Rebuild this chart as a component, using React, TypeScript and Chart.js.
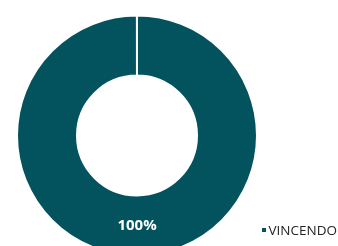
import React, { useEffect, useRef } from "react";
import { Chart, registerables } from "chart.js";

Chart.register(...registerables);

const categories: string[] = ["VINCENDO"];
const values: number[] = [100];
const colors: string[] = ["#03535E"];

const labelPlugin = {
  id: "sliceLabels",
  afterDatasetsDraw(chart: any) {
    const ctx = chart.ctx;
    const meta = chart.getDatasetMeta(0);
    const data = chart.data.datasets[0].data as number[];
    const total = data.reduce((a, b) => a + b, 0);
    ctx.save();
    ctx.fillStyle = "#FFFFFF";
    ctx.font = "bold 15px 'Open Sans'";
    ctx.textAlign = "center";
    ctx.textBaseline = "middle";
    meta.data.forEach((arc: any, i: number) => {
      const pos = arc.tooltipPosition();
      const pct = Math.round((data[i] / total) * 100) + "%";
      ctx.fillText(pct, pos.x, pos.y);
    });
    ctx.restore();
  },
};

export default function App() {
  const ref = useRef<HTMLCanvasElement>(null);
  useEffect(() => {
    if (!ref.current) return;
    const chart = new Chart(ref.current, {
      type: "doughnut",
      data: {
        labels: categories,
        datasets: [
          {
            data: values,
            backgroundColor: colors,
            borderColor: "#FFFFFF",
            borderWidth: 2,
          },
        ],
      },
      options: {
        responsive: false,
        animation: false,
        cutout: "50%",
        circumference: 359.95,
        layout: { padding: { left: 16, top: 14.5, right: 80, bottom: 23.5 } },
        plugins: {
          legend: { display: false },
          tooltip: { enabled: false },
        },
      },
      plugins: [labelPlugin],
    });
    return () => chart.destroy();
  }, []);

  return (
    <div style={{ position: "fixed", left: 0, top: 0, width: 338, height: 280, background: "#fff" }}>
      <canvas ref={ref} width={338} height={280} style={{ width: 338, height: 280, display: "block" }} />
      {categories.map((c, i) => (
        <div
          key={c}
          style={{
            position: "absolute",
            left: 261.5,
            top: 222.5 + i * 20,
            display: "flex",
            alignItems: "center",
            fontFamily: "'Open Sans', sans-serif",
            fontSize: 13.5,
            lineHeight: "14px",
            color: "#252423",
            whiteSpace: "nowrap",
          }}
        >
          <span style={{ width: 4, height: 4, background: colors[i], display: "inline-block", marginRight: 3, marginTop: 1 }} />
          <span>{c}</span>
        </div>
      ))}
    </div>
  );
}
